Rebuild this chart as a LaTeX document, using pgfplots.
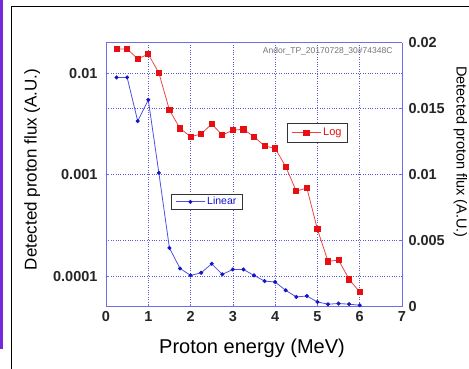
\documentclass[border=0pt]{standalone}
\usepackage{pgfplots}
\pgfplotsset{compat=1.18}
\usepackage{pgfplotstable}
\usepackage{fontspec}
\setmainfont{Liberation Sans}
\definecolor{axiscol}{RGB}{110,110,230}
\definecolor{gridcol}{RGB}{90,90,225}
\definecolor{redm}{RGB}{230,15,20}
\definecolor{redl}{RGB}{235,70,70}
\definecolor{bluem}{RGB}{20,20,200}
\definecolor{bluel}{RGB}{80,80,225}
\definecolor{framepurple}{RGB}{120,40,220}

\pgfplotstableread{
x y
0.25 0.0173
0.5 0.0173
0.75 0.0139
1.0 0.0154
1.25 0.0101
1.5 0.00434
1.75 0.00286
2.0 0.00237
2.25 0.00252
2.5 0.00316
2.75 0.00246
3.0 0.00275
3.25 0.0028
3.5 0.00237
3.75 0.00192
4.0 0.00182
4.25 0.00120
4.5 0.000689
4.75 0.000738
5.0 0.000290
5.25 0.000140
5.5 0.000144
5.75 0.0000931
6.0 0.0000698
}\logdata

\pgfplotstableread{
x y
0.25 0.01737
0.5 0.01737
0.75 0.01406
1.0 0.01567
1.25 0.01014
1.5 0.00445
1.75 0.0029
2.0 0.00237
2.25 0.00257
2.5 0.00325
2.75 0.00245
3.0 0.00282
3.25 0.00282
3.5 0.00237
3.75 0.00194
4.0 0.00187
4.25 0.00124
4.5 0.00074
4.75 0.00081
5.0 0.00036
5.25 0.00019
5.5 0.00024
5.75 0.00019
6.0 0.00011
}\lindata

\pgfplotsset{
  common/.style={
    scale only axis, width=296pt, height=264pt,
    at={(106pt,62.3pt)}, anchor=south west,
    xmin=0, xmax=7,
    axis line style={axiscol, line width=0.8pt},
    tick style={axiscol, line width=0.6pt},
    major tick length=3pt,
    tick label style={font=\fontsize{14.5}{14.5}\selectfont\bfseries, text=black!85},
    /pgf/number format/assume math mode=true,
    grid style={gridcol, dotted, line width=0.7pt},
    legend cell align=left,
    legend image code/.code={\draw[mark repeat=2,mark phase=2,##1] plot coordinates {(0pt,0pt) (14.5pt,0pt) (29pt,0pt)};},
  }
}

\begin{document}
\begin{tikzpicture}[x=1pt,y=1pt]
\useasboundingbox (0,0) rectangle (469,369);
\draw[framepurple,line width=2.5pt] (1.25,20) -- (1.25,369);
\draw[black,line width=0.9pt] (11.7,0) -- (11.7,362.3) -- (469,362.3);

\begin{axis}[common,
  ymode=log, ymin=5e-5, ymax=0.02,
  axis y line*=left,
  xtick={0,1,2,3,4,5,6,7}, xtick pos=left,
  ytick={1e-4,1e-3,1e-2}, yticklabels={0.0001,0.001,0.01},
  yticklabel style={xshift=-5pt},
  xticklabel style={yshift=-1pt},
  yminorticks=false,
  xmajorgrids, ymajorgrids,
  extra y ticks={2.2361e-4,4.4721e-3},
  extra y tick labels={},
  extra y tick style={grid=major, major tick length=0pt},
  legend style={at={(rel axis cs:0.7145,0.659)}, anchor=center,
    draw=black!80, line width=0.6pt, fill=white,
    font=\fontsize{11}{11}\selectfont, text=redm,
    inner xsep=4pt, inner ysep=3pt},
]
\addplot[redl, line width=0.8pt, mark=square*, mark size=2.6pt,
  mark options={fill=redm, draw=redm, solid}] table {\logdata};
\addlegendentry{Log}
\end{axis}

\begin{axis}[common,
  ymin=0, ymax=0.02,
  axis y line*=right, axis x line=none,
  scaled y ticks=false,
  ytick={0,0.005,0.01,0.015,0.02},
  yticklabels={0,0.005,0.01,0.015,0.02},
  yticklabel style={xshift=3pt},
  legend style={at={(rel axis cs:0.341,0.397)}, anchor=center,
    draw=black!80, line width=0.6pt, fill=white,
    font=\fontsize{10.5}{10.5}\selectfont, text=bluem,
    inner xsep=4pt, inner ysep=1pt},
]
\addplot[bluel, line width=0.8pt, mark=*, mark size=1.6pt,
  mark options={fill=bluem, draw=bluem, solid}] table {\lindata};
\addlegendentry{Linear}
\end{axis}

\node[anchor=east, text=black!55, font=\fontsize{8.5}{8.5}\selectfont] at (396,317.3) {Andor\_TP\_20170728\_30\#74348C};
\node[anchor=base, font=\fontsize{20}{20}\selectfont] at (252,15) {Proton energy (MeV)};
\node[anchor=base, rotate=90, font=\fontsize{17}{17}\selectfont] at (36.7,199.5) {Detected proton flux (A.U.)};
\node[anchor=base, rotate=-90, font=\fontsize{14.5}{14.5}\selectfont] at (456.5,217) {Detected proton flux (A.U.)};
\end{tikzpicture}
\end{document}
